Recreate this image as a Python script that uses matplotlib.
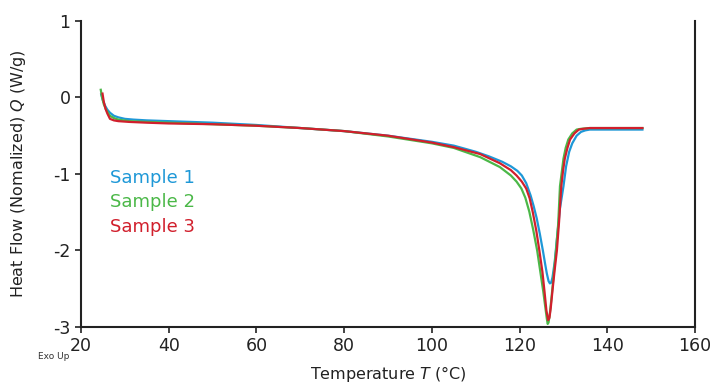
import numpy as np
import matplotlib
matplotlib.use("Agg")
import matplotlib.pyplot as plt

# Sample 1 (blue)
t1 = [24.6, 25.0, 25.5, 26.0, 26.6, 27.5, 28.5, 30, 32, 35, 40, 50, 60, 70, 80, 90, 100,
      105, 110, 113, 116, 118, 119.5, 120.5, 121.5, 122.5, 123.2, 123.9, 124.6, 125.3,
      125.8, 126.2, 126.6, 126.9, 127.2, 127.5, 128.0, 128.5, 129.2, 130.0, 130.6, 131.3,
      132, 133, 134, 135, 136, 140, 148]
q1 = [0.04, -0.04, -0.11, -0.16, -0.20, -0.24, -0.26, -0.28, -0.29, -0.30, -0.31, -0.33,
      -0.36, -0.40, -0.44, -0.50, -0.58, -0.63, -0.71, -0.77, -0.84, -0.90, -0.96, -1.02,
      -1.12, -1.28, -1.42, -1.58, -1.78, -2.00, -2.17, -2.30, -2.40, -2.43, -2.42, -2.35,
      -2.15, -1.85, -1.45, -1.16, -0.90, -0.71, -0.60, -0.50, -0.45, -0.43, -0.42, -0.42, -0.42]

# Sample 2 (green)
t2 = [24.5, 24.8, 25.2, 25.7, 26.6, 27.5, 28.5, 31, 35, 40, 50, 60, 70, 80, 90, 100,
      105, 111, 115.5, 118, 119.3, 120.4, 121.3, 122.2, 123.1, 124.0, 124.7, 125.4,
      125.9, 126.2, 126.4, 126.6, 126.9, 127.3, 127.8, 128.3, 128.8, 129.2, 129.6, 130.0,
      130.5, 131.1, 132, 133, 134, 136, 140, 148]
q2 = [0.10, 0.00, -0.09, -0.16, -0.24, -0.27, -0.29, -0.31, -0.32, -0.33, -0.35, -0.37,
      -0.40, -0.44, -0.51, -0.60, -0.66, -0.78, -0.91, -1.02, -1.10, -1.19, -1.31, -1.49,
      -1.73, -2.00, -2.27, -2.54, -2.76, -2.89, -2.96, -2.94, -2.82, -2.60, -2.30, -2.00,
      -1.65, -1.16, -0.98, -0.80, -0.66, -0.55, -0.47, -0.42, -0.41, -0.40, -0.40, -0.40]

# Sample 3 (red)
t3 = [24.9, 25.2, 25.6, 26.0, 26.6, 27.5, 28.5, 31, 35, 40, 50, 60, 70, 80, 90, 100,
      105, 111, 115.5, 118, 119.3, 120.5, 121.5, 122.3, 123.0, 123.8, 124.5, 125.2,
      125.7, 126.1, 126.5, 126.8, 127.1, 127.5, 128.0, 128.5, 129.0, 129.5, 129.9, 130.3,
      130.9, 131.5, 132.5, 133.5, 134.5, 136, 140, 148]
q3 = [0.05, -0.06, -0.15, -0.21, -0.28, -0.30, -0.31, -0.32, -0.33, -0.34, -0.35, -0.37,
      -0.40, -0.44, -0.50, -0.59, -0.65, -0.74, -0.86, -0.95, -1.02, -1.10, -1.19, -1.32,
      -1.50, -1.74, -2.00, -2.28, -2.55, -2.78, -2.91, -2.88, -2.75, -2.52, -2.25, -2.00,
      -1.62, -1.16, -0.96, -0.80, -0.66, -0.55, -0.47, -0.42, -0.41, -0.40, -0.40, -0.40]

labels = ["Sample 1", "Sample 2", "Sample 3"]
colors = ["#1e98d7", "#4bb848", "#d11f2c"]

xticks = [20, 40, 60, 80, 100, 120, 140, 160]
yticks = [-3, -2, -1, 0, 1]

plt.rcParams["font.family"] = ["DejaVu Sans"]
plt.rcParams["mathtext.fontset"] = "dejavusans"
plt.rcParams["axes.unicode_minus"] = False

fig = plt.figure(figsize=(7.12, 3.87), dpi=100)
ax = fig.add_axes([0.1138, 0.155, 0.8624, 0.791])

for t, q, c in zip([t1, t2, t3], [q1, q2, q3], colors):
    ax.plot(t, q, color=c, lw=1.6, solid_joinstyle="round")

ax.set_xlim(20, 160)
ax.set_ylim(-3, 1)
ax.set_xticks(xticks)
ax.set_yticks(yticks)
ax.tick_params(direction="out", length=4, width=1.2, labelsize=12.5, colors="#222222")

ax.spines["top"].set_visible(False)
for s in ["left", "bottom", "right"]:
    ax.spines[s].set_linewidth(1.5)
    ax.spines[s].set_color("#222222")

ax.set_xlabel("Temperature $T$ (°C)", fontsize=11.5, color="#222222", labelpad=6)
ax.set_ylabel("Heat Flow (Nomalized) $Q$ (W/g)", fontsize=11.5, color="#222222", labelpad=18)

for i, (lab, c) in enumerate(zip(labels, colors)):
    ax.text(26.5, -1.05 - 0.32 * i, lab, color=c, fontsize=13, va="center", ha="left")

fig.text(0.053, 0.078, "Exo Up", fontsize=6.5, color="#333333", ha="left", va="center")

fig.savefig("out.png", dpi=100)
